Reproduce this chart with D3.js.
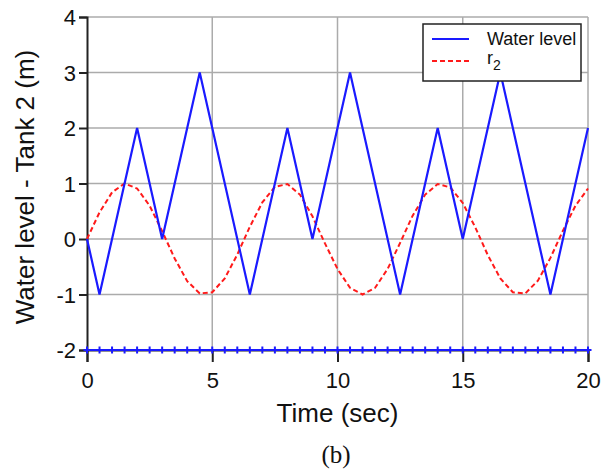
<!DOCTYPE html>
<html>
<head>
<meta charset="utf-8">
<script src="https://cdn.jsdelivr.net/npm/d3@7"></script>
<style>
  body { margin: 0; background: #fff; }
  text { font-family: "Liberation Sans", Arial, sans-serif; }
</style>
</head>
<body>
<div id="chart"></div>
<script>
// Water level (triangle wave) corner points
const levelTime = [0, 0.5, 2, 3, 4.5, 6.5, 8, 9, 10.5, 12.5, 14, 15, 16.5, 18.5, 20];
const levelValue = [0, -1, 2, 0, 3, -1, 2, 0, 3, -1, 2, 0, 3, -1, 2];

// r2 reference, read every 0.5 s
const r2Time = [0, 0.5, 1, 1.5, 2, 2.5, 3, 3.5, 4, 4.5, 5, 5.5, 6, 6.5, 7, 7.5, 8, 8.5, 9, 9.5,
  10, 10.5, 11, 11.5, 12, 12.5, 13, 13.5, 14, 14.5, 15, 15.5, 16, 16.5, 17, 17.5, 18, 18.5, 19, 19.5, 20];
const r2Value = [0, 0.48, 0.84, 1.0, 0.91, 0.6, 0.14, -0.35, -0.76, -0.98, -0.96, -0.71, -0.28, 0.22, 0.66, 0.94, 0.99, 0.8, 0.41, -0.08,
  -0.54, -0.88, -1.0, -0.88, -0.54, -0.07, 0.42, 0.8, 0.99, 0.93, 0.65, 0.21, -0.29, -0.71, -0.96, -0.98, -0.75, -0.34, 0.15, 0.6, 0.91];

// marker line along the bottom
const baseTime = r2Time;
const baseValue = r2Time.map(() => -2);

const xTicks = [0, 5, 10, 15, 20];
const yTicks = [-2, -1, 0, 1, 2, 3, 4];

const width = 603, height = 473;
const margin = { left: 87, right: 15, top: 17, bottom: 123 };

const svg = d3.select("#chart").append("svg")
  .attr("width", width)
  .attr("height", height);

const x = d3.scaleLinear().domain([0, 20]).range([margin.left, width - margin.right]);
const y = d3.scaleLinear().domain([-2, 4]).range([height - margin.bottom, margin.top]);

// grid
svg.append("g").selectAll("line").data(xTicks.slice(1)).join("line")
  .attr("x1", d => x(d)).attr("x2", d => x(d))
  .attr("y1", y(-2)).attr("y2", y(4))
  .attr("stroke", "#ababab").attr("stroke-width", 1.5);
svg.append("g").selectAll("line").data(yTicks.slice(1)).join("line")
  .attr("x1", x(0)).attr("x2", x(20))
  .attr("y1", d => y(d)).attr("y2", d => y(d))
  .attr("stroke", "#ababab").attr("stroke-width", 1.5);

// axes (plain hyphen for negatives, like the original)
const xAxis = svg.append("g")
  .attr("transform", `translate(0,${y(-2)})`)
  .call(d3.axisBottom(x).tickValues(xTicks).tickSize(12).tickPadding(10).tickFormat(d => String(d)));
const yAxis = svg.append("g")
  .attr("transform", `translate(${x(0)},0)`)
  .call(d3.axisLeft(y).tickValues(yTicks).tickSize(8).tickPadding(3).tickFormat(d => String(d)));

[xAxis, yAxis].forEach(a => {
  a.select(".domain").attr("stroke", "#222").attr("stroke-width", 2);
  a.selectAll(".tick line").attr("stroke", "#222").attr("stroke-width", 2);
  a.selectAll("text").attr("font-size", 22).attr("fill", "#111")
    .style("font-family", "Liberation Sans, Arial, sans-serif");
});
yAxis.selectAll(".tick text").attr("dy", "0.36em");

const line = d3.line().x(d => x(d[0])).y(d => y(d[1]));

// bottom marker line
const basePts = d3.zip(baseTime, baseValue);
svg.append("path").datum(basePts)
  .attr("d", line).attr("fill", "none").attr("stroke", "#1a1aff").attr("stroke-width", 2);
svg.append("g").selectAll("path").data(basePts).join("path")
  .attr("d", d => `M${x(d[0]) - 3.5},${y(d[1])}h7M${x(d[0])},${y(d[1]) - 3.5}v7`)
  .attr("stroke", "#1a1aff").attr("stroke-width", 2);

// r2 dashed
svg.append("path").datum(d3.zip(r2Time, r2Value))
  .attr("d", line).attr("fill", "none")
  .attr("stroke", "#ff1a1a").attr("stroke-width", 2).attr("stroke-dasharray", "5,3");

// water level
svg.append("path").datum(d3.zip(levelTime, levelValue))
  .attr("d", line).attr("fill", "none")
  .attr("stroke", "#1a1aff").attr("stroke-width", 2.2);

// legend
const lg = svg.append("g");
lg.append("rect").attr("x", 423).attr("y", 24).attr("width", 158).attr("height", 57)
  .attr("fill", "#fff").attr("stroke", "#222").attr("stroke-width", 1.5);
lg.append("line").attr("x1", 432).attr("x2", 469).attr("y1", 39).attr("y2", 39)
  .attr("stroke", "#1a1aff").attr("stroke-width", 2);
lg.append("line").attr("x1", 432).attr("x2", 469).attr("y1", 61).attr("y2", 61)
  .attr("stroke", "#ff1a1a").attr("stroke-width", 2).attr("stroke-dasharray", "5,3");
lg.append("text").attr("x", 487).attr("y", 45).attr("font-size", 18).attr("fill", "#111").text("Water level");
const r2t = lg.append("text").attr("x", 487).attr("y", 64).attr("font-size", 18).attr("fill", "#111");
r2t.append("tspan").text("r");
r2t.append("tspan").attr("dy", 6).attr("font-size", 14).text("2");

// axis titles
svg.append("text").attr("x", x(10)).attr("y", 422).attr("text-anchor", "middle")
  .attr("font-size", 26).attr("fill", "#111").text("Time (sec)");
svg.append("text").attr("transform", "translate(34,187) rotate(-90)").attr("text-anchor", "middle")
  .attr("font-size", 26).attr("fill", "#111").text("Water level - Tank 2 (m)");
svg.append("text").attr("x", 336).attr("y", 463).attr("text-anchor", "middle")
  .attr("font-size", 25).attr("fill", "#111")
  .style("font-family", "Liberation Serif, DejaVu Serif, serif").text("(b)");
</script>
</body>
</html>
